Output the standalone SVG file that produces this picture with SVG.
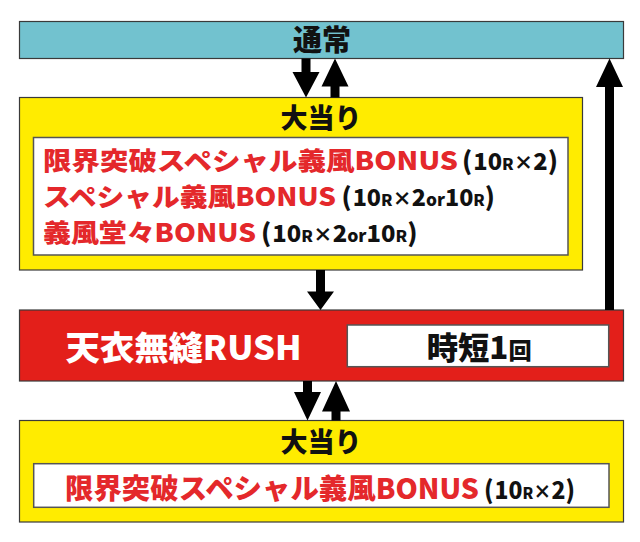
<svg xmlns="http://www.w3.org/2000/svg" width="640" height="542" viewBox="0 0 640 542">
<style>
.t{font-family:"Noto Sans CJK JP","Noto Sans CJK SC",sans-serif;font-weight:900}
.blk{fill:#111}
.red{fill:#e4282b}
.wht{fill:#fff}
.box{stroke:#3a3a3a;stroke-width:1.2}
.inner{fill:#fff;stroke:#555;stroke-width:1.5}
.arr{fill:#000}
.p{font-size:25px}
.s{font-size:16px}
.x{font-size:19px}
.o{font-size:17px}
</style>
<rect width="640" height="542" fill="#fff"/>
<g id="normal">
<rect class="box" x="19.5" y="21.5" width="604" height="37" fill="#72c2cf"/>
<text class="t blk" x="322" y="50.5" font-size="29" text-anchor="middle">通常</text>
</g>
<g id="bonus1">
<rect class="box" x="19.5" y="97.5" width="563" height="172.5" fill="#ffec00"/>
<text class="t blk" x="321" y="128" font-size="27" text-anchor="middle">大当り</text>
<rect class="inner" x="33.5" y="137.5" width="534.5" height="117.5"/>
<text class="t red" x="43" y="169.5" font-size="25.5" textLength="415" lengthAdjust="spacingAndGlyphs">限界突破スペシャル義風BONUS</text>
<text class="t blk" x="462" y="169.5" font-size="23" textLength="96" lengthAdjust="spacingAndGlyphs"><tspan class="p">(</tspan><tspan dx="1">10</tspan><tspan class="s">R</tspan><tspan class="x">×</tspan>2<tspan class="p">)</tspan></text>
<text class="t red" x="43" y="206" font-size="25.5" textLength="293" lengthAdjust="spacingAndGlyphs">スペシャル義風BONUS</text>
<text class="t blk" x="341.5" y="206" font-size="23" textLength="153.5" lengthAdjust="spacingAndGlyphs"><tspan class="p">(</tspan><tspan dx="1">10</tspan><tspan class="s">R</tspan><tspan class="x">×</tspan>2<tspan class="o">or</tspan>10<tspan class="s">R</tspan><tspan class="p">)</tspan></text>
<text class="t red" x="43" y="242" font-size="25.5" textLength="213" lengthAdjust="spacingAndGlyphs">義風堂々BONUS</text>
<text class="t blk" x="261" y="242" font-size="23" textLength="156.5" lengthAdjust="spacingAndGlyphs"><tspan class="p">(</tspan><tspan dx="1">10</tspan><tspan class="s">R</tspan><tspan class="x">×</tspan>2<tspan class="o">or</tspan>10<tspan class="s">R</tspan><tspan class="p">)</tspan></text>
</g>
<g id="rush">
<rect class="box" x="19.5" y="310" width="604" height="71" fill="#e31f1a"/>
<text class="t wht" x="65.5" y="359.5" font-size="33" textLength="236" lengthAdjust="spacingAndGlyphs">天衣無縫RUSH</text>
<rect class="inner" x="347.3" y="325" width="261.4" height="41.7" stroke="#333" stroke-width="1.2"/>
<text class="t blk" x="426.7" y="359" font-size="31" textLength="105" lengthAdjust="spacingAndGlyphs">時短1<tspan font-size="23">回</tspan></text>
</g>
<g id="bonus2">
<rect class="box" x="19.5" y="420.5" width="604" height="101.5" fill="#ffec00"/>
<text class="t blk" x="321" y="451.5" font-size="27" text-anchor="middle">大当り</text>
<rect class="inner" x="33.7" y="463.7" width="575.3" height="43.6"/>
<text class="t red" x="65" y="499" font-size="28" textLength="414" lengthAdjust="spacingAndGlyphs">限界突破スペシャル義風BONUS</text>
<text class="t blk" x="484" y="499" font-size="24" textLength="91" lengthAdjust="spacingAndGlyphs"><tspan class="p">(</tspan><tspan dx="1">10</tspan><tspan class="s">R</tspan><tspan class="x">×</tspan>2<tspan class="p">)</tspan></text>
</g>
<g id="connectors">
<path class="arr" d="M301.5,58.5 H310.5 V72 H319.5 L306,97.5 L292.5,72 H301.5 Z"/>
<path class="arr" d="M330.5,97.5 H339.5 V86.5 H348.5 L335,58.5 L321.5,86.5 H330.5 Z"/>
<path class="arr" d="M605,310 H614 V87 H623 L609.5,58.5 L596,87 H605 Z"/>
<path class="arr" d="M316,270 H325 V291.5 H334 L320.5,310 L307,291.5 H316 Z"/>
<path class="arr" d="M303,381 H312 V392 H321 L307.5,420.5 L294,392 H303 Z"/>
<path class="arr" d="M331.5,420.5 H340.5 V411.5 H350 L336,381 L322,411.5 H331.5 Z"/>
</g>
</svg>
